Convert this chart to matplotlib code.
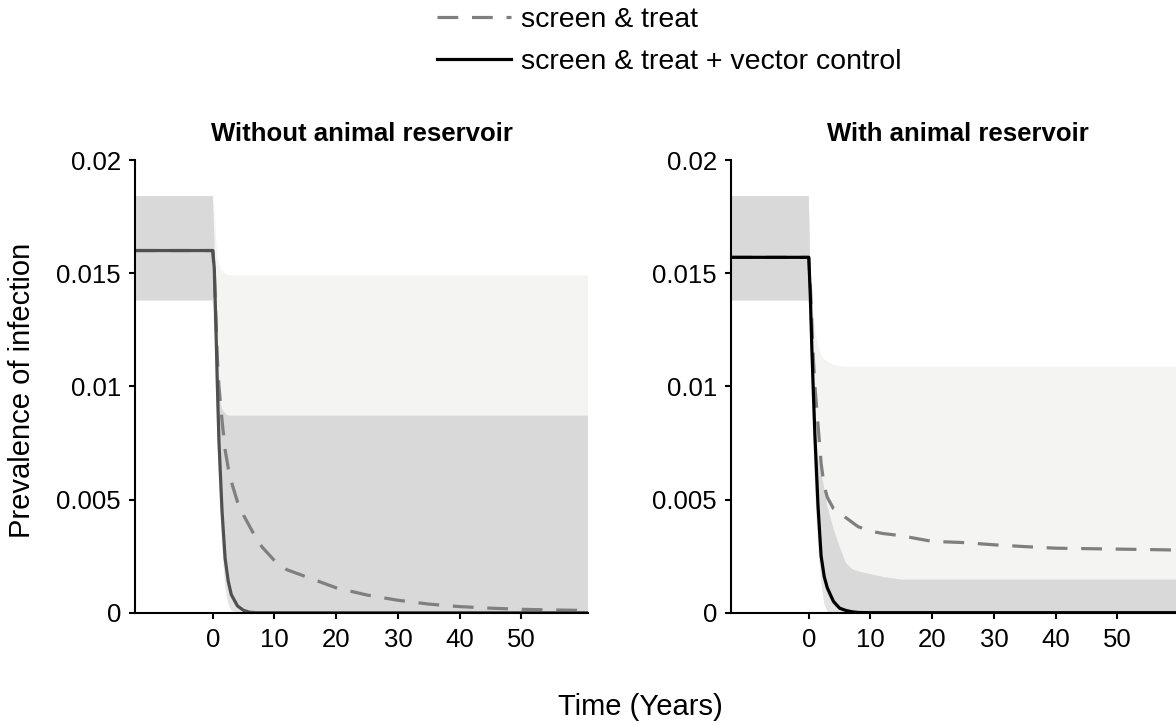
import numpy as np
import matplotlib.pyplot as plt

plt.rcParams['font.family'] = ['Liberation Sans', 'DejaVu Sans']

# time since start of intervention (years), shared by both panels
years = [-12.5, 0, 0.25, 0.5, 0.75, 1, 1.5, 2, 2.5, 3, 4, 5, 6, 7, 8,
         10, 12, 15, 20, 25, 30, 35, 40, 45, 50, 55, 61]

# --- Without animal reservoir ---
st_med_no = [0.0160, 0.0160, 0.0150, 0.0130, 0.0112, 0.0100, 0.0085, 0.0072, 0.0064,
             0.0058, 0.0049, 0.0043, 0.0038, 0.0033, 0.0029, 0.0023, 0.0019, 0.0016,
             0.0011, 0.00078, 0.00055, 0.00038, 0.00027, 0.0002, 0.00015, 0.00012, 0.0001]
vc_med_no = [0.0160, 0.0160, 0.0152, 0.0128, 0.0100, 0.0076, 0.0045, 0.0024, 0.0014,
             0.0008, 0.0003, 0.0001, 0.00002, 0, 0, 0, 0, 0,
             0, 0, 0, 0, 0, 0, 0, 0, 0]
st_hi_no = [0.0184, 0.0184, 0.0180, 0.0168, 0.0158, 0.0154, 0.0151, 0.0150, 0.0149,
            0.0149, 0.0149, 0.0149, 0.0149, 0.0149, 0.0149, 0.0149, 0.0149, 0.0149,
            0.0149, 0.0149, 0.0149, 0.0149, 0.0149, 0.0149, 0.0149, 0.0149, 0.0149]
st_lo_no = [0.0138, 0.0138, 0.0135, 0.0115, 0.0090, 0.0068, 0.0040, 0.0021, 0.0012,
            0.0006, 0.0002, 0.00005, 0, 0, 0, 0, 0, 0,
            0, 0, 0, 0, 0, 0, 0, 0, 0]
vc_hi_no = [0.0184, 0.0184, 0.0165, 0.0135, 0.0108, 0.0096, 0.0090, 0.0088, 0.0087,
            0.0087, 0.0087, 0.0087, 0.0087, 0.0087, 0.0087, 0.0087, 0.0087, 0.0087,
            0.0087, 0.0087, 0.0087, 0.0087, 0.0087, 0.0087, 0.0087, 0.0087, 0.0087]
vc_lo_no = [0.0138, 0.0138, 0.0125, 0.0100, 0.0078, 0.0058, 0.0030, 0.0012, 0.0004,
            0.0001, 0, 0, 0, 0, 0, 0, 0, 0,
            0, 0, 0, 0, 0, 0, 0, 0, 0]

# --- With animal reservoir ---
st_med_an = [0.0157, 0.0157, 0.0145, 0.0128, 0.0112, 0.0100, 0.0083, 0.0066, 0.0056,
             0.0051, 0.0046, 0.0044, 0.0042, 0.0040, 0.0038, 0.0036, 0.0035, 0.0034,
             0.00315, 0.0031, 0.0030, 0.00292, 0.00285, 0.00283, 0.00281, 0.00279, 0.00276]
vc_med_an = [0.0157, 0.0157, 0.0140, 0.0117, 0.0097, 0.0078, 0.0047, 0.0025, 0.0016,
             0.0011, 0.0005, 0.0002, 0.0001, 0.00004, 0.00001, 0, 0, 0,
             0, 0, 0, 0, 0, 0, 0, 0, 0]
st_hi_an = [0.0184, 0.0184, 0.0155, 0.0145, 0.0133, 0.0126, 0.0118, 0.0114, 0.0112,
            0.0111, 0.01095, 0.0109, 0.01087, 0.01087, 0.01087, 0.01087, 0.01087, 0.01087,
            0.01087, 0.01087, 0.01087, 0.01087, 0.01087, 0.01087, 0.01087, 0.01087, 0.01087]
st_lo_an = [0.0138, 0.0138, 0.0130, 0.0107, 0.0087, 0.0069, 0.0040, 0.0021, 0.0013,
            0.0008, 0.0003, 0.0001, 0.00003, 0, 0, 0, 0, 0,
            0, 0, 0, 0, 0, 0, 0, 0, 0]
vc_hi_an = [0.0184, 0.0184, 0.0150, 0.0122, 0.0100, 0.0084, 0.0068, 0.0062, 0.0055,
            0.0047, 0.0037, 0.0029, 0.0022, 0.00192, 0.00182, 0.0017, 0.00158, 0.00146,
            0.00146, 0.00146, 0.00146, 0.00146, 0.00146, 0.00146, 0.00146, 0.00146, 0.00146]
vc_lo_an = [0.0138, 0.0138, 0.0120, 0.0095, 0.0075, 0.0055, 0.0030, 0.0014, 0.0004,
            0.00005, 0, 0, 0, 0, 0, 0, 0, 0,
            0, 0, 0, 0, 0, 0, 0, 0, 0]

xticks = [0, 10, 20, 30, 40, 50]
yticks = [0, 0.005, 0.01, 0.015, 0.02]
ytick_labels = ['0', '0.005', '0.01', '0.015', '0.02']
labels = ['screen & treat', 'screen & treat + vector control']


def draw_panel(ax, st_med, vc_med, st_lo, st_hi, vc_lo, vc_hi, vc_color, title):
    t = np.array(years)
    st_lo, st_hi = np.array(st_lo), np.array(st_hi)
    vc_lo, vc_hi = np.array(vc_lo), np.array(vc_hi)

    # uncertainty ranges; overlap of the two shown darker
    ax.fill_between(t, st_lo, st_hi, color='#f4f4f2', edgecolor='none')
    ax.fill_between(t, vc_lo, vc_hi, color='#e4e4e4', edgecolor='none')
    lo = np.maximum(st_lo, vc_lo)
    hi = np.minimum(st_hi, vc_hi)
    ax.fill_between(t, lo, hi, where=hi > lo, interpolate=True,
                    color='#d9d9d9', edgecolor='none')

    l1, = ax.plot(t, st_med, color='#7f7f7f', lw=2.3, dashes=(6.5, 4.3))
    l2, = ax.plot(t, vc_med, color=vc_color, lw=2.3)

    ax.set_xlim(-12.6, 60.8)
    ax.set_ylim(0, 0.02)
    ax.set_xticks(xticks)
    ax.set_yticks(yticks)
    ax.set_yticklabels(ytick_labels)
    for s in ['top', 'right']:
        ax.spines[s].set_visible(False)
    for s in ['left', 'bottom']:
        ax.spines[s].set_linewidth(1.5)
    ax.tick_params(direction='out', length=4, width=1.5, labelsize=18.5)
    ax.tick_params(axis='x', pad=7)
    ax.tick_params(axis='y', pad=6)
    ax.set_title(title, fontsize=18.5, fontweight='bold', pad=14)
    return l1, l2


fig = plt.figure(figsize=(11.76, 7.23), dpi=100)
W, H = 1176, 723
bottom = 1 - 612.7 / H
height = 452.7 / H
ax1 = fig.add_axes([135 / W, bottom, 453 / W, height])
ax2 = fig.add_axes([731 / W, bottom, 453 / W, height])

draw_panel(ax1, st_med_no, vc_med_no, st_lo_no, st_hi_no, vc_lo_no, vc_hi_no,
           '#505050', 'Without animal reservoir')
h1, h2 = draw_panel(ax2, st_med_an, vc_med_an, st_lo_an, st_hi_an, vc_lo_an, vc_hi_an,
                    'black', 'With animal reservoir')

fig.legend([h1, h2], labels, loc='center left', bbox_to_anchor=(437 / W, 1 - 41 / H),
           frameon=False, fontsize=20.5, handlelength=2.6, handletextpad=0.35,
           labelspacing=0.55, borderpad=0, borderaxespad=0)

fig.text(640 / W, 1 - 707 / H, 'Time (Years)', ha='center', va='center', fontsize=21)
fig.text(22 / W, 1 - 390 / H, 'Prevalence of infection', rotation=90,
         ha='center', va='center', fontsize=21)

fig.savefig('out.png', dpi=100)
